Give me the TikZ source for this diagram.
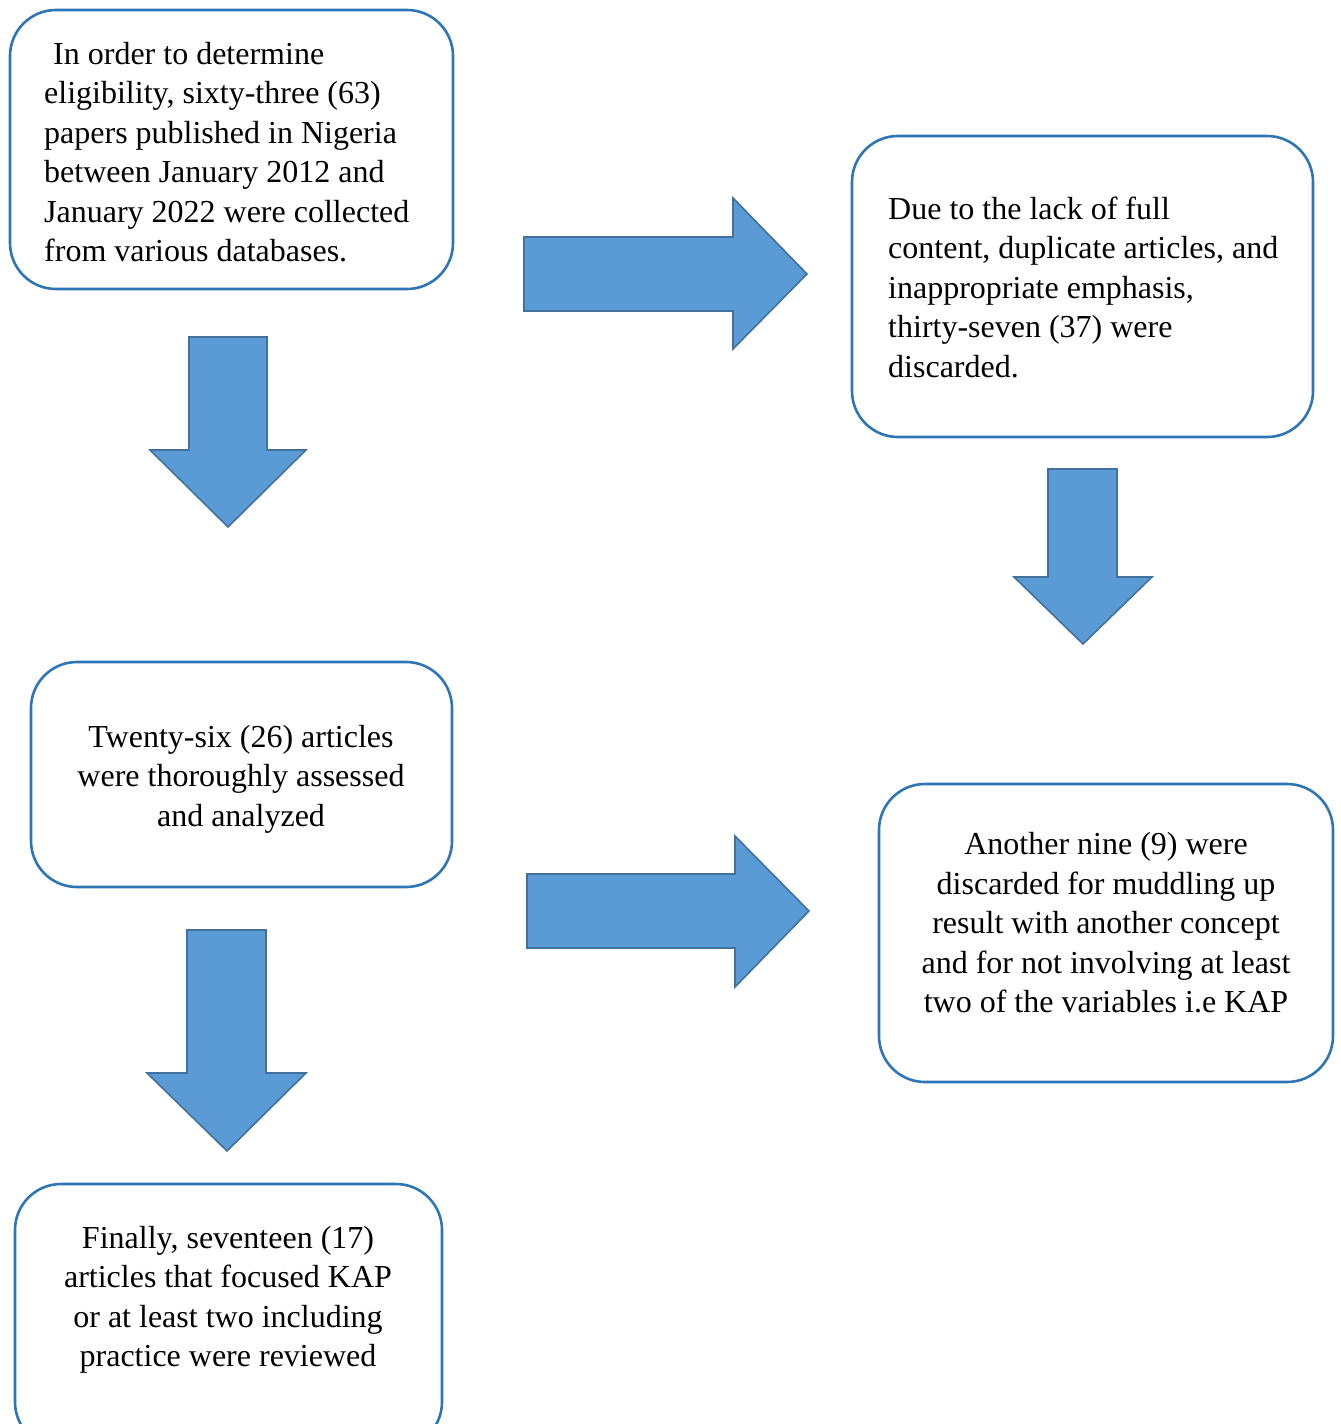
\documentclass[tikz,border=0pt]{standalone}
\usepackage{fontspec}
\setmainfont{Liberation Serif}
\definecolor{boxline}{HTML}{2E75B6}
\definecolor{arrfill}{HTML}{5B9BD5}
\definecolor{arrline}{HTML}{41719C}
\begin{document}
\begin{tikzpicture}[x=1pt,y=-1pt,
  box/.style={draw=boxline,line width=2.6pt,rounded corners=46pt},
  txt/.style={font=\fontsize{32}{39.5}\selectfont,inner sep=0pt},
  blockarrow/.style={fill=arrfill,draw=arrline,line width=1.6pt,line join=miter}]
\useasboundingbox (0,0) rectangle (1341,1424);
\clip (0,0) rectangle (1341,1424);
% boxes
\draw[box] (10,10) rectangle (453,289);
\draw[box] (852,136) rectangle (1313,437);
\draw[box] (31,662) rectangle (452,887);
\draw[box] (879,784) rectangle (1333,1082);
\draw[box] (15,1184) rectangle (442,1448);
% texts
\node[txt,align=left,anchor=west] (t1) at (44,152) {\hspace{9pt}In order to determine\\eligibility, sixty-three (63)\\papers published in Nigeria\\between January 2012 and\\January 2022 were collected\\from various databases.};
\node[txt,align=left,anchor=west] (t2) at (888,287) {Due to the lack of full\\content, duplicate articles, and\\inappropriate emphasis,\\thirty-seven (37) were\\discarded.};
\node[txt,align=center] (t3) at (241,779) {Twenty-six (26) articles\\were thoroughly assessed\\and analyzed};
\node[txt,align=center] (t4) at (1106,923) {Another nine (9) were\\discarded for muddling up\\result with another concept\\and for not involving at least\\two of the variables i.e KAP};
\node[txt,align=center] (t5) at (228,1300) {Finally, seventeen (17)\\articles that focused KAP\\or at least two including\\practice were reviewed};
% block arrows
\draw[blockarrow] (524,237) -- (733,237) -- (733,198) -- (807,274) -- (733,349) -- (733,311) -- (524,311) -- cycle;
\draw[blockarrow] (527,874) -- (735,874) -- (735,836) -- (809,911) -- (735,987) -- (735,948) -- (527,948) -- cycle;
\draw[blockarrow] (189,337) -- (267,337) -- (267,450) -- (306,450) -- (228,527) -- (150,450) -- (189,450) -- cycle;
\draw[blockarrow] (1048,469) -- (1117,469) -- (1117,577) -- (1152,577) -- (1083,644) -- (1014,577) -- (1048,577) -- cycle;
\draw[blockarrow] (187,930) -- (266,930) -- (266,1073) -- (306,1073) -- (227,1151) -- (147,1073) -- (187,1073) -- cycle;
\end{tikzpicture}
\end{document}
